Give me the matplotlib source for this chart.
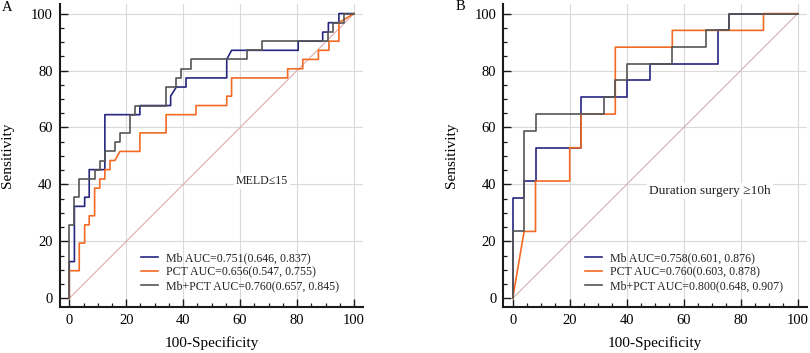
import matplotlib
matplotlib.use('Agg')
import matplotlib.pyplot as plt
from matplotlib.ticker import MultipleLocator

plt.rcParams['font.family'] = ['Liberation Serif', 'DejaVu Serif']

# ---------------- data ----------------
ticks = [0, 20, 40, 60, 80, 100]

# Panel A  (MELD <= 15)
a_mb_x = [0, 0, 1.8, 1.8, 5.4, 5.4, 7.0, 7.0, 12.5, 12.5, 24.8, 24.8, 35.6, 35.6, 37.6, 41.0, 41.0,
          55.3, 55.3, 57.0, 80.4, 80.4, 89.0, 89.0, 91.0, 91.0, 94.7, 94.7, 100]
a_mb_y = [0, 12.9, 12.9, 32.3, 32.3, 35.5, 35.5, 45.2, 45.2, 64.5, 64.5, 67.7, 67.7, 71.0, 74.2, 74.2, 77.4,
          77.4, 83.9, 87.1, 87.1, 90.3, 90.3, 93.5, 93.5, 96.8, 96.8, 100, 100]

a_pct_x = [0, 0, 3.5, 3.5, 5.4, 5.4, 7.0, 7.0, 8.9, 8.9, 10.7, 10.7, 12.5, 12.5, 14.3, 14.3, 16.0, 17.8,
           24.8, 24.8, 34.0, 34.0, 44.5, 44.5, 55.3, 55.3, 57.0, 57.0, 76.7, 76.7, 82.0, 82.0, 87.5, 87.5,
           91.2, 91.2, 94.7, 94.7, 100]
a_pct_y = [0, 9.7, 9.7, 19.4, 19.4, 25.8, 25.8, 29.0, 29.0, 38.7, 38.7, 41.9, 41.9, 45.2, 45.2, 48.4, 48.4, 51.6,
           51.6, 58.1, 58.1, 64.5, 64.5, 67.7, 67.7, 71.0, 71.0, 77.4, 77.4, 80.6, 80.6, 83.9, 83.9, 87.1,
           87.1, 90.3, 90.3, 96.8, 100]

a_comb_x = [0, 0, 1.8, 1.8, 3.5, 3.5, 8.9, 8.9, 10.8, 10.8, 12.5, 12.5, 16.0, 16.0, 17.8, 17.8, 21.3, 21.3,
            23.1, 23.1, 34.0, 34.0, 37.6, 37.6, 39.2, 39.2, 42.9, 42.9, 62.3, 62.3, 67.6, 67.6, 91.0, 91.0,
            92.7, 92.7, 96.5, 96.5, 100]
a_comb_y = [0, 25.8, 25.8, 35.5, 35.5, 41.9, 41.9, 45.2, 45.2, 48.4, 48.4, 51.6, 51.6, 54.8, 54.8, 58.1, 58.1, 64.5,
            64.5, 67.7, 67.7, 74.2, 74.2, 77.4, 77.4, 80.6, 80.6, 83.9, 83.9, 87.1, 87.1, 90.3, 90.3, 93.5,
            93.5, 96.8, 96.8, 100, 100]

a_labels = ['Mb AUC=0.751(0.646, 0.837)', 'PCT AUC=0.656(0.547, 0.755)', 'Mb+PCT AUC=0.760(0.657, 0.845)']
a_note = 'MELD\u226415'

# Panel B  (Duration surgery >= 10h)
b_mb_x = [0, 0, 4, 4, 8, 8, 24, 24, 40, 40, 48, 48, 72, 72, 76, 76, 100]
b_mb_y = [0, 35.3, 35.3, 41.2, 41.2, 52.9, 52.9, 70.6, 70.6, 76.5, 76.5, 82.4, 82.4, 94.1, 94.1, 100, 100]

b_pct_x = [0, 4, 8, 8, 20, 20, 24, 24, 36, 36, 56, 56, 88, 88, 100]
b_pct_y = [0, 23.5, 23.5, 41.2, 41.2, 52.9, 52.9, 64.7, 64.7, 88.2, 88.2, 94.1, 94.1, 100, 100]

b_comb_x = [0, 0, 4, 4, 8, 8, 32, 32, 36, 36, 40, 40, 56, 56, 68, 68, 76, 76, 100]
b_comb_y = [0, 23.5, 23.5, 58.8, 58.8, 64.7, 64.7, 70.6, 70.6, 76.5, 76.5, 82.4, 82.4, 88.2, 88.2, 94.1, 94.1, 100, 100]

b_labels = ['Mb AUC=0.758(0.601, 0.876)', 'PCT AUC=0.760(0.603, 0.878)', 'Mb+PCT AUC=0.800(0.648, 0.907)']
b_note = 'Duration surgery \u226510h'

ref_line = [0, 100]

# ---------------- styling ----------------
C_MB = '#26267f'
C_PCT = '#f26a24'
C_COMB = '#555555'
W, H = 810, 353

fig = plt.figure(figsize=(W / 100, H / 100), dpi=100)


def make_panel(left_px, xlim, mb, pct, comb, labels, note, note_xy, note_fs, diag_color,
               leg_px, letter, letter_px):
    ax = fig.add_axes([left_px / W, 1 - 306.6 / H, 303.8 / W, 303.0 / H])
    ax.set_xlim(*xlim)
    ax.set_ylim(-2.9, 103.5)
    ax.set_xticks(ticks)
    ax.set_yticks(ticks)
    ax.xaxis.set_minor_locator(MultipleLocator(5))
    ax.yaxis.set_minor_locator(MultipleLocator(5))
    ax.grid(True, which='major', color='#dadada', lw=0.8)
    ax.set_axisbelow(True)
    ax.xaxis.get_gridlines()[0].set_visible(False)
    ax.yaxis.get_gridlines()[0].set_visible(False)
    for s in ['top', 'right']:
        ax.spines[s].set_visible(False)
    for s in ['left', 'bottom']:
        ax.spines[s].set_linewidth(1.5)
        ax.spines[s].set_color('#1a1a1a')
    ax.tick_params(which='major', direction='in', length=6, width=1.0, labelsize=10.5, pad=5,
                   color='#1a1a1a')
    ax.tick_params(which='minor', direction='in', length=3.2, width=0.9, color='#1a1a1a')

    ax.plot(ref_line, ref_line, color=diag_color, lw=0.7, zorder=2)
    l1, = ax.plot(mb[0], mb[1], color=C_MB, lw=1.2, zorder=4)
    l2, = ax.plot(pct[0], pct[1], color=C_PCT, lw=1.2, zorder=5)
    l3, = ax.plot(comb[0], comb[1], color=C_COMB, lw=1.2, zorder=6)

    ax.text(note_xy[0], note_xy[1], note, fontsize=note_fs, ha='center', va='center', zorder=3,
            color='#222222', bbox=dict(facecolor='white', edgecolor='none', pad=1.5))

    ax.set_xlabel('100-Specificity', fontsize=11)
    ax.set_ylabel('Sensitivity', fontsize=11)
    ax.xaxis.label.set_va('center')
    ax.yaxis.label.set_va('center')
    ax.xaxis.set_label_coords(0.5, -0.12)
    ax.yaxis.set_label_coords(-0.17, 0.5)

    fig.legend([l1, l2, l3], labels, loc='upper left',
               bbox_to_anchor=(leg_px[0] / W, 1 - leg_px[1] / H), bbox_transform=fig.transFigure,
               frameon=False, borderpad=0, borderaxespad=0, fontsize=8.6, handlelength=1.45,
               handletextpad=0.65, labelspacing=0.15, labelcolor='#222222')

    fig.text(letter_px[0] / W, 1 - letter_px[1] / H, letter, fontsize=10.5, ha='center', va='center')
    return ax


make_panel(59.6, (-3.4, 103.3), (a_mb_x, a_mb_y), (a_pct_x, a_pct_y), (a_comb_x, a_comb_y),
           a_labels, a_note, (67.7, 41.3), 8.6, '#dfa0a0', (140.7, 252.3), 'A', (7.5, 7.5))
make_panel(503.3, (-3.3, 103.3), (b_mb_x, b_mb_y), (b_pct_x, b_pct_y), (b_comb_x, b_comb_y),
           b_labels, b_note, (69.2, 37.8), 9.6, '#c9aaa8', (585.0, 252.3), 'B', (460, 7))

fig.savefig('out.png', dpi=100)
